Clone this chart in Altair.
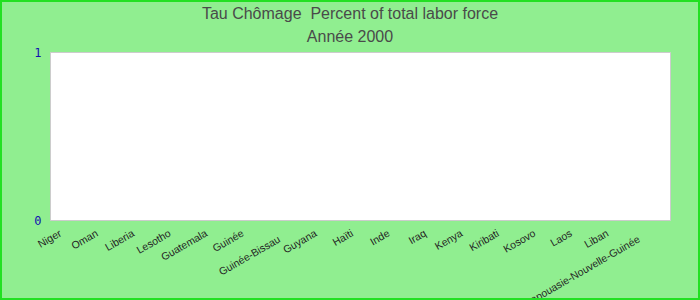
import altair as alt
import pandas as pd

countries = ["Niger", "Oman", "Liberia", "Lesotho", "Guatemala", "Guinée",
             "Guinée-Bissau", "Guyana", "Haïti", "Inde", "Iraq", "Kenya",
             "Kiribati", "Kosovo", "Laos", "Liban", "Papouasie-Nouvelle-Guinée"]
values = [0] * len(countries)  # no data shown for 2000
y_ticks = [0, 1]

df = pd.DataFrame({"pays": countries, "taux": values})

W, H = 620, 168
PAD_L, PAD_T = 50, 52

bars = alt.Chart(df).mark_bar(color="#3366cc").encode(
    x=alt.X("pays:N", sort=countries, title=None,
            scale=alt.Scale(paddingInner=0.3, paddingOuter=0.15),
            axis=alt.Axis(labelAngle=-30, labelAlign="right", labelBaseline="top",
                          labelFont="Liberation Sans", labelFontSize=10.5,
                          labelColor="#222222",
                          labelOffset=alt.ExprRef(
                              "datum.value == 'Papouasie-Nouvelle-Guinée' ? -15 : -10"),
                          labelPadding=alt.ExprRef(
                              "datum.value == 'Guinée-Bissau' || datum.value == 'Papouasie-Nouvelle-Guinée' ? 14 : 8"),
                          ticks=False, domain=False, labelOverlap=False,
                          labelLimit=300)),
    y=alt.Y("taux:Q", title=None,
            scale=alt.Scale(domain=[0, 1], nice=False),
            axis=alt.Axis(values=y_ticks, grid=False, ticks=False, domain=False,
                          labelFont="DejaVu Sans Mono", labelFontSize=12,
                          labelColor="#1010b0", labelPadding=9, format="d")),
)

frame = alt.Chart(df).mark_rect(fill=None, stroke="#22e022", strokeWidth=2, clip=False).encode(
    x=alt.value(-PAD_L + 1), x2=alt.value(700 - PAD_L - 1),
    y=alt.value(-PAD_T + 1), y2=alt.value(300 - PAD_T - 1),
)

chart = alt.layer(bars, frame).properties(
    width=W, height=H,
    title=alt.TitleParams(
        text="Tau Chômage\u00a0 Percent of total labor force",
        subtitle="Année 2000",
        font="Liberation Sans", fontSize=16, fontWeight="normal", color="#4a4a4a",
        subtitleFont="Liberation Sans", subtitleFontSize=16, subtitleColor="#4a4a4a",
        subtitlePadding=7, anchor="middle", dx=-10, dy=45, offset=0,
    ),
    autosize=alt.AutoSizeParams(type="none"),
    padding={"left": PAD_L, "top": PAD_T, "right": 700 - PAD_L - W, "bottom": 300 - PAD_T - H},
).configure(background="#90ee90").configure_view(fill="white", stroke="#cccccc", strokeWidth=1)

chart.save("out.html", embed_options={"renderer": "svg", "actions": False})
